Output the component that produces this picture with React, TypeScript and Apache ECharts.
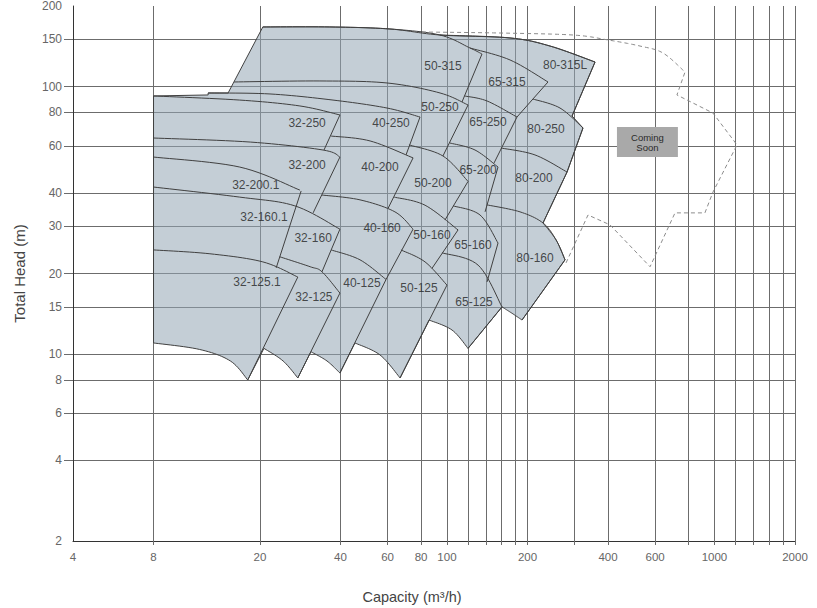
import React, { useEffect, useRef } from 'react';
import * as echarts from 'echarts';

type Pt = [number, number]; // [capacity m³/h, total head m]

const FONT = '"Liberation Sans", Arial, Helvetica, sans-serif';
const LINE = '#404040';
const GRID = '#6c6c6c';
const FILL = 'rgba(148,166,181,0.55)';

// ---- axis ticks ----
const capacityLabels = [4, 8, 20, 40, 60, 80, 100, 200, 400, 600, 1000, 2000];
const capacityGrid = [8, 20, 40, 60, 80, 100, 120, 140, 160, 180, 200, 300, 400, 600, 800, 1000, 1200, 1400, 1600, 1800, 2000];
const headLabels = [2, 4, 6, 8, 10, 15, 20, 30, 40, 60, 80, 100, 150, 200];
const headGrid = [4, 6, 8, 10, 15, 20, 30, 40, 60, 80, 100, 150];

// ---- 32 frame ----
const leftEdge32: Pt[] = [[8, 11.0], [8, 92.2]];
const top32_250: Pt[] = [[8, 92.2], [16.8, 89.0], [28.2, 84.6], [39.8, 78.3]];
const edge32_250: Pt[] = [[39.8, 78.3], [34.7, 57.9]];
const top32_200: Pt[] = [[8, 64.2], [18.4, 62.0], [34.4, 57.9], [39.8, 54.5]];
const edge32_200: Pt[] = [[39.8, 54.5], [31.6, 33.7]];
const top32_200_1: Pt[] = [[8, 54.5], [16.8, 50.0], [28.2, 41.0]];
const top32_160: Pt[] = [[8, 42.1], [16.8, 38.6], [27.0, 35.8], [39.8, 29.3]];
const edge32_1: Pt[] = [[28.5, 40.7], [23.0, 21.0]];
const edge32_160: Pt[] = [[39.8, 29.3], [34.1, 20.3]];
const top32_125_1: Pt[] = [[8, 24.5], [13.0, 23.7], [20.5, 22.1], [27.7, 19.4]];
const edge32_125_1: Pt[] = [[27.7, 19.4], [18.0, 8.0]];
const bottom32_125_1: Pt[] = [[8, 11.0], [11.9, 10.4], [15.5, 9.42], [18.0, 8.0]];
const top32_125: Pt[] = [[23.7, 23.1], [30.8, 21.2], [34.1, 20.3], [39.8, 16.9]];
const edge32_125: Pt[] = [[39.8, 16.9], [27.7, 8.14]];
const bottom32_125: Pt[] = [[20.7, 10.5], [24.4, 9.42], [27.7, 8.14]];

// ---- 40 frame ----
const top40_250: Pt[] = [[12.8, 94.6], [21.8, 93.8], [37.5, 89.0], [59.7, 83.1], [79.3, 76.9]];
const edge40_250: Pt[] = [[79.3, 76.9], [70.3, 55.5]];
const top40_200: Pt[] = [[36.9, 65.3], [51.6, 62.6], [74.7, 54.1]];
const edge40_200: Pt[] = [[74.7, 54.1], [60.2, 35.0]];
const top40_160: Pt[] = [[34.1, 39.3], [47.3, 37.7], [63.9, 34.0], [74.7, 29.3]];
const edge40_160: Pt[] = [[74.7, 29.3], [59.2, 19.0]];
const top40_125: Pt[] = [[36.9, 24.5], [47.3, 22.5], [59.2, 19.0]];
const edge40_125: Pt[] = [[59.2, 19.0], [39.8, 8.49]];
const bottom40_125: Pt[] = [[31.0, 10.2], [35.6, 9.42], [39.8, 8.49]];

// ---- 50 frame ----
const edge50_315_left: Pt[] = [[15.2, 94.6], [20.5, 167]];
const top50_315: Pt[] = [[20.5, 167], [36.5, 167], [61.2, 164.1], [94.2, 155.8], [122.0, 139.3], [135.2, 132.3]];
const edge50_315: Pt[] = [[135.2, 132.3], [113.8, 87.5]];
const top50_250: Pt[] = [[16.0, 104.0], [33.5, 104.9], [59.7, 103.1], [94.2, 94.6], [119.9, 85.3]];
const edge50_250: Pt[] = [[119.9, 85.3], [96.6, 55.0]];
const top50_200: Pt[] = [[72.1, 60.5], [96.6, 55.0], [119.9, 44.2]];
const edge50_200: Pt[] = [[119.9, 44.2], [98.3, 31.7]];
const top50_160: Pt[] = [[63.5, 38.6], [82.8, 36.0], [110.0, 29.1]];
const edge50_160: Pt[] = [[110.0, 29.1], [87.9, 20.9]];
const top50_125: Pt[] = [[67.3, 24.5], [82.8, 22.1], [100.0, 18.1]];
const edge50_125: Pt[] = [[100.0, 18.1], [66.8, 8.14]];
const bottom50_125: Pt[] = [[45.3, 11.0], [56.2, 9.92], [66.8, 8.14]];

// ---- 65 frame ----
const top65_315: Pt[] = [[122.0, 139.3], [172.1, 125.7], [238.6, 104.0]];
const edge65_315: Pt[] = [[238.6, 104.0], [182.7, 76.9]];
const top65_250: Pt[] = [[116.3, 92.2], [141.2, 88.3], [182.7, 76.9]];
const edge65_250: Pt[] = [[182.7, 76.9], [150.0, 51.8]];
const top65_200: Pt[] = [[102.6, 61.5], [127.3, 57.9], [155.2, 50.0]];
const edge65_200: Pt[] = [[155.2, 50.0], [138.8, 34.0]];
const top65_160: Pt[] = [[105.4, 35.8], [132.9, 33.1], [155.2, 26.0]];
const edge65_160: Pt[] = [[155.2, 26.0], [141.2, 18.6]];
const top65_125: Pt[] = [[95.8, 23.9], [130.7, 21.5], [160.6, 15.0]];
const edge65_125: Pt[] = [[160.6, 15.0], [119.9, 10.5]];
const bottom65_125: Pt[] = [[85.7, 13.4], [104.4, 12.3], [119.9, 10.5]];

// ---- 80 frame ----
const top80_315L: Pt[] = [[94.2, 155.8], [172.1, 151.9], [242.8, 141.7], [357.7, 123.5]];
const edge80_315L: Pt[] = [[357.7, 123.5], [293.5, 77.6]];
const top80_250: Pt[] = [[209.7, 89.8], [264.6, 83.1], [322.5, 70.0]];
const edge80_250: Pt[] = [[322.5, 70.0], [281.1, 47.9]];
const top80_200: Pt[] = [[159.2, 58.9], [213.3, 55.5], [281.1, 47.9]];
const edge80_200: Pt[] = [[281.1, 47.9], [228.6, 30.9]];
const top80_160: Pt[] = [[141.2, 36.1], [187.5, 34.0], [228.6, 30.9], [255.8, 26.7], [276.3, 22.5]];
const edge80_160: Pt[] = [[276.3, 22.5], [190.8, 13.4]];
const bottom80_160: Pt[] = [[160.6, 15.0], [175.1, 14.2], [190.8, 13.4]];

// ---- coming soon range ----
const comingSoonTop: Pt[] = [[80.7, 159.9], [157.9, 158.5], [296, 155.8], [399.9, 149.3], [526.8, 141.7], [642.4, 133.4], [776, 113.3]];
const comingSoonRest: Pt[] = [[776, 113.3], [724, 93.0], [987, 79.6], [1214, 60.5], [987, 40.3], [921, 33.7], [712, 33.7], [574.4, 21.2], [406.9, 30.4], [336.7, 33.1], [276.3, 21.5]];
const comingSoonBox: Pt[] = [[432, 70.6], [730, 54.5]];

// ---- model labels ----
const modelNames = ['50-315', '65-315', '80-315L', '32-250', '40-250', '50-250', '65-250', '80-250', '32-200', '40-200', '50-200', '65-200', '80-200', '32-200.1', '32-160.1', '32-160', '40-160', '50-160', '65-160', '80-160', '32-125.1', '32-125', '40-125', '50-125', '65-125'];
const modelLabelAt: Pt[] = [[96.6, 119.3], [167.7, 104.0], [276.3, 120.4], [30.0, 73.0], [61.8, 73.0], [94.2, 83.8], [142.4, 73.7], [234.5, 69.4], [30.0, 50.9], [56.2, 50.0], [88.6, 43.6], [130.7, 48.7], [211.5, 45.5], [19.3, 42.8], [20.7, 32.5], [31.6, 27.2], [57.2, 29.6], [87.9, 27.9], [125.1, 25.6], [213.3, 22.9], [19.5, 18.6], [31.8, 16.3], [48.1, 18.4], [78.6, 17.7], [126.2, 15.6]];

const rev = (a: Pt[]): Pt[] => a.slice().reverse();

// outer edge of the whole selection field, walked clockwise
const outlinePieces: Pt[][] = [
  leftEdge32,
  [[8, 92.2], [12.8, 93.0]],
  [[12.8, 93.0], [12.8, 94.6]],
  [[12.8, 94.6], [15.2, 94.6]],
  edge50_315_left,
  [...top50_315.slice(0, 4), ...top80_315L.slice(1)],
  edge80_315L,
  [edge80_315L[1], top80_250[2]],
  edge80_250,
  edge80_200,
  top80_160.slice(2),
  edge80_160,
  rev(bottom80_160),
  edge65_125,
  rev(bottom65_125),
  [bottom65_125[0], edge50_125[1]],
  rev(bottom50_125),
  [bottom50_125[0], edge40_125[1]],
  rev(bottom40_125),
  [bottom40_125[0], edge32_125[1]],
  rev(bottom32_125),
  [bottom32_125[0], edge32_125_1[1]],
  rev(bottom32_125_1),
];

const tileLines: Pt[][] = [
  top32_250, edge32_250, top32_200, edge32_200, top32_200_1, top32_160, edge32_1, edge32_160,
  top32_125_1, edge32_125_1, top32_125, edge32_125,
  top40_250, edge40_250, top40_200, edge40_200, top40_160, edge40_160, top40_125, edge40_125,
  top50_315, edge50_315, top50_250, edge50_250, top50_200, edge50_200, top50_160, edge50_160, top50_125, edge50_125,
  top65_315, edge65_315, top65_250, edge65_250, top65_200, edge65_200, top65_160, edge65_160, top65_125, edge65_125,
  top80_315L, edge80_315L, top80_250, edge80_250, top80_200, edge80_200, top80_160, edge80_160,
];

// Catmull-Rom through screen points, sampled into a polyline
function smoothPx(px: number[][]): number[][] {
  const n = px.length;
  if (n < 3) return px.map((p) => [p[0], p[1]]);
  const out: number[][] = [[px[0][0], px[0][1]]];
  for (let i = 0; i < n - 1; i++) {
    const p0 = px[Math.max(i - 1, 0)];
    const p1 = px[i];
    const p2 = px[i + 1];
    const p3 = px[Math.min(i + 2, n - 1)];
    const c1 = [p1[0] + (p2[0] - p0[0]) / 6, p1[1] + (p2[1] - p0[1]) / 6];
    const c2 = [p2[0] - (p3[0] - p1[0]) / 6, p2[1] - (p3[1] - p1[1]) / 6];
    for (let s = 1; s <= 12; s++) {
      const t = s / 12;
      const u = 1 - t;
      const a = u * u * u, b = 3 * u * u * t, c = 3 * u * t * t, d = t * t * t;
      out.push([
        a * p1[0] + b * c1[0] + c * c2[0] + d * p2[0],
        a * p1[1] + b * c1[1] + c * c2[1] + d * p2[1],
      ]);
    }
  }
  return out;
}

const lg = (v: number) => Math.log10(v);
const fmt = (v: number) => String(Math.round(Math.pow(10, v)));

export default function App() {
  const ref = useRef<HTMLDivElement>(null);

  useEffect(() => {
    if (!ref.current) return;
    const chart = echarts.init(ref.current, undefined, { renderer: 'svg' });

    const renderItem = (_params: any, api: any) => {
      const toPx = (p: Pt) => api.coord([lg(p[0]), lg(p[1])]) as number[];
      const children: any[] = [];

      const fillPts: number[][] = [];
      outlinePieces.forEach((piece) => {
        const s = smoothPx(piece.map(toPx));
        fillPts.push(...(fillPts.length ? s.slice(1) : s));
      });
      children.push({ type: 'polygon', shape: { points: fillPts }, style: { fill: FILL, stroke: null } });
      children.push({ type: 'polygon', shape: { points: fillPts }, style: { fill: null, stroke: LINE, lineWidth: 1 } });

      tileLines.forEach((l) => {
        children.push({
          type: 'polyline',
          shape: { points: smoothPx(l.map(toPx)) },
          style: { fill: null, stroke: LINE, lineWidth: 1 },
        });
      });

      const dashed = [...smoothPx(comingSoonTop.map(toPx)), ...comingSoonRest.slice(1).map(toPx)];
      children.push({
        type: 'polyline',
        shape: { points: dashed },
        style: { fill: null, stroke: '#8c8c8c', lineWidth: 1, lineDash: [4, 3] },
      });

      const a = toPx(comingSoonBox[0]);
      const b = toPx(comingSoonBox[1]);
      children.push({
        type: 'rect',
        shape: { x: a[0], y: a[1], width: b[0] - a[0], height: b[1] - a[1] },
        style: { fill: '#a9a9a9' },
      });
      children.push({
        type: 'text',
        style: {
          text: 'Coming\nSoon',
          x: (a[0] + b[0]) / 2,
          y: (a[1] + b[1]) / 2,
          align: 'center',
          verticalAlign: 'middle',
          fontSize: 9.5,
          lineHeight: 10,
          fontFamily: FONT,
          fill: '#2a2a2a',
        },
      });
      return { type: 'group', children };
    };

    const option: any = {
      animation: false,
      backgroundColor: '#ffffff',
      grid: { left: 73, right: 22, top: 6, bottom: 67, containLabel: false, outerBoundsMode: 'none' },
      xAxis: {
        type: 'value',
        min: lg(4),
        max: lg(2000),
        name: 'Capacity (m³/h)',
        nameLocation: 'middle',
        nameGap: 48,
        nameTextStyle: { fontFamily: FONT, fontSize: 14.5, color: '#444', padding: [0, 44, 0, 0] },
        axisLine: { show: true, lineStyle: { color: '#333', width: 1 } },
        axisTick: { show: true, length: 4, customValues: capacityGrid.map(lg), lineStyle: { color: GRID } },
        axisLabel: { customValues: capacityLabels.map(lg), formatter: fmt, fontFamily: FONT, fontSize: 11.5, color: '#666', margin: 10 },
        splitLine: { show: true, lineStyle: { color: GRID, width: 1 } },
      },
      yAxis: {
        type: 'value',
        min: lg(2),
        max: lg(200),
        name: 'Total Head (m)',
        nameLocation: 'middle',
        nameRotate: 90,
        nameGap: 46,
        nameTextStyle: { fontFamily: FONT, fontSize: 15, color: '#444' },
        axisLine: { show: true, lineStyle: { color: '#333', width: 1 } },
        axisTick: { show: true, length: 9, customValues: headGrid.map(lg), lineStyle: { color: GRID } },
        axisLabel: { customValues: headLabels.map(lg), formatter: fmt, fontFamily: FONT, fontSize: 12, color: '#666', margin: 11 },
        splitLine: { show: true, lineStyle: { color: GRID, width: 1 } },
      },
      series: [
        {
          type: 'custom',
          coordinateSystem: 'cartesian2d',
          silent: true,
          z: 2,
          data: [[lg(4), lg(2)]],
          renderItem,
        },
        {
          type: 'scatter',
          silent: true,
          z: 5,
          symbolSize: 1,
          itemStyle: { color: 'transparent' },
          data: modelLabelAt.map((p, i) => ({ name: modelNames[i], value: [lg(p[0]), lg(p[1])] })),
          label: {
            show: true,
            position: 'inside',
            formatter: '{b}',
            fontFamily: FONT,
            fontSize: 12,
            color: '#222',
          },
        },
      ],
    };

    chart.setOption(option);
    return () => chart.dispose();
  }, []);

  return <div ref={ref} style={{ position: 'absolute', left: 0, top: 0, width: 817, height: 608 }} />;
}
